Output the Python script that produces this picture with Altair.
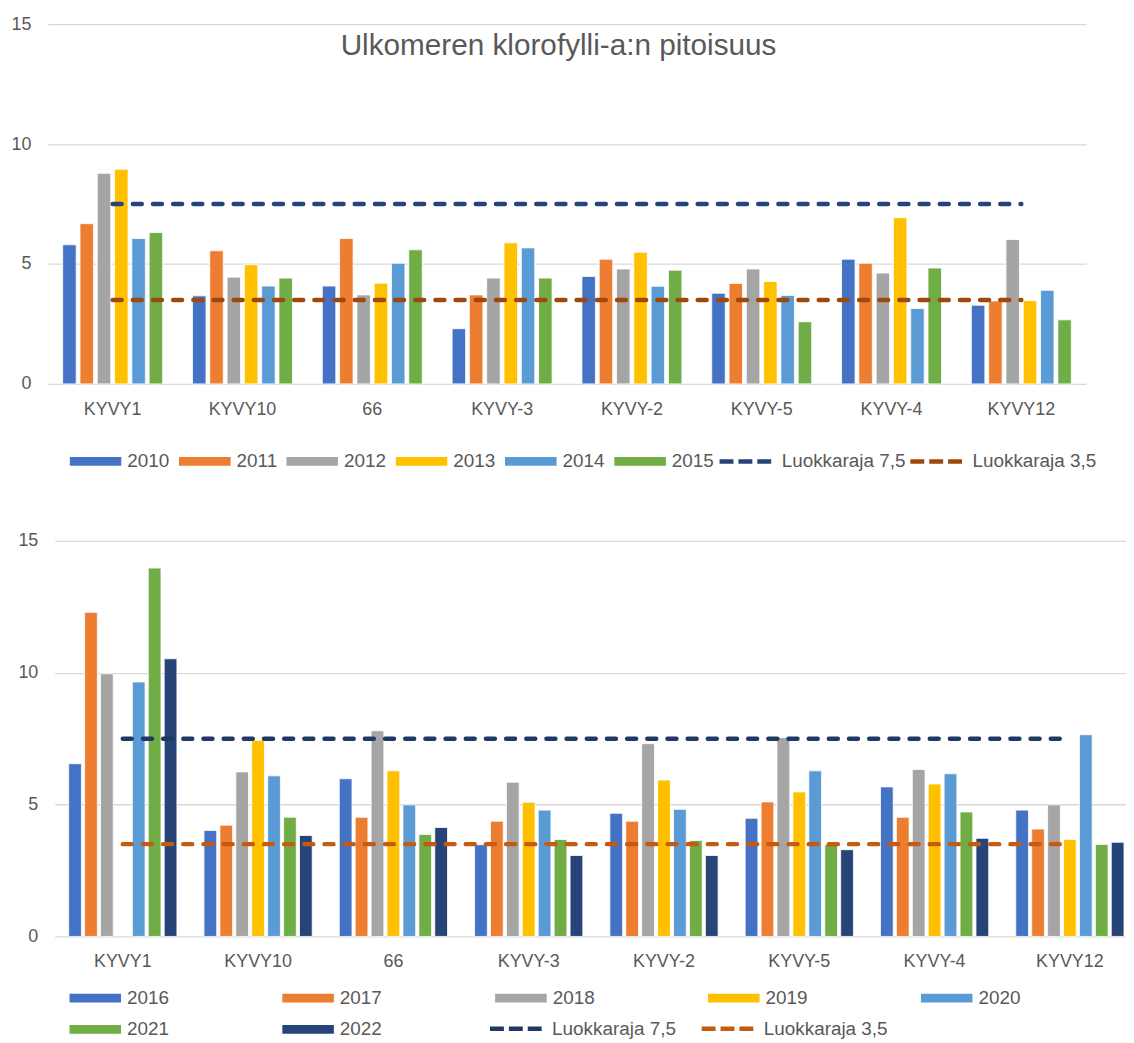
import altair as alt
import pandas as pd

FONT = "Liberation Sans"
TEXT = "#595959"
GRID = "#D9D9D9"

stations = ["KYVY1", "KYVY10", "66", "KYVY-3", "KYVY-2", "KYVY-5", "KYVY-4", "KYVY12"]

# --- upper panel, 2010-2015 ---
years_top = ["2010", "2011", "2012", "2013", "2014", "2015"]
v2010 = [5.80, 3.67, 4.08, 2.30, 4.48, 3.78, 5.20, 3.28]
v2011 = [6.68, 5.55, 6.06, 3.71, 5.20, 4.19, 5.03, 3.46]
v2012 = [8.78, 4.45, 3.71, 4.41, 4.79, 4.79, 4.62, 6.02]
v2013 = [8.95, 4.97, 4.20, 5.88, 5.49, 4.27, 6.93, 3.47]
v2014 = [6.06, 4.08, 5.03, 5.67, 4.07, 3.69, 3.14, 3.90]
v2015 = [6.31, 4.41, 5.59, 4.41, 4.74, 2.59, 4.83, 2.67]

# --- lower panel, 2016-2022 (no 2019 value for KYVY1) ---
years_bottom = ["2016", "2017", "2018", "2019", "2020", "2021", "2022"]
v2016 = [6.55, 4.02, 5.98, 3.48, 4.67, 4.48, 5.67, 4.79]
v2017 = [12.29, 4.22, 4.52, 4.37, 4.37, 5.10, 4.52, 4.07]
v2018 = [9.96, 6.24, 7.80, 5.85, 7.31, 7.54, 6.33, 4.99]
v2019 = [None, 7.44, 6.28, 5.09, 5.93, 5.48, 5.78, 3.68]
v2020 = [9.65, 6.09, 4.99, 4.79, 4.82, 6.28, 6.17, 7.65]
v2021 = [13.97, 4.52, 3.87, 3.68, 3.64, 3.49, 4.72, 3.49]
v2022 = [10.53, 3.83, 4.13, 3.07, 3.07, 3.29, 3.72, 3.57]

limit_labels = ["Luokkaraja 7,5", "Luokkaraja 3,5"]
limit_values = [7.5, 3.5]
y_ticks = [0, 5, 10, 15]

colors_bottom = ["#4472C4", "#ED7D31", "#A5A5A5", "#FFC000", "#5B9BD5", "#70AD47", "#264478"]
colors_top = colors_bottom[:6]
limit_colors_top = ["#264478", "#9E480E"]
limit_colors_bottom = ["#203864", "#C55A11"]

TITLE = "Ulkomeren klorofylli-a:n pitoisuus"


def bar_frame(years, series):
    rows = []
    for yr, vals in zip(years, series):
        for st, v in zip(stations, vals):
            if v is not None:
                rows.append({"station": st, "year": yr, "value": v})
    return pd.DataFrame(rows)


def limit_frame():
    rows = []
    for lab, v in zip(limit_labels, limit_values):
        for i, st in enumerate(stations):
            rows.append({"station": st, "series": lab, "value": v, "idx": i})
    return pd.DataFrame(rows)


def panel(years, series, colors, limit_colors, width, height, x_scale, off_pad,
          ylab_pad, xlab_pad, yr_legend, lim_legend, title=None):
    x_enc = alt.X(
        "station:N", sort=stations, scale=x_scale,
        axis=alt.Axis(title=None, labelAngle=0, domain=False, ticks=False, grid=False,
                      labelPadding=xlab_pad, labelFontSize=18, labelColor=TEXT,
                      labelFont=FONT),
    )
    y_enc = alt.Y(
        "value:Q", scale=alt.Scale(domain=[0, 15], nice=False),
        axis=alt.Axis(title=None, values=y_ticks, domain=False, ticks=False, grid=True,
                      gridColor=GRID, gridWidth=1.4, labelPadding=ylab_pad,
                      labelFontSize=18, labelColor=TEXT, labelFont=FONT),
    )
    common_leg = dict(title=None, orient="none", direction="horizontal", padding=0,
                      labelFontSize=19, labelFont=FONT, labelColor=TEXT, clipHeight=20)
    bars = alt.Chart(bar_frame(years, series)).mark_bar(stroke="white", strokeWidth=0.8).encode(
        x=x_enc,
        y=y_enc,
        xOffset=alt.XOffset("year:N", sort=years,
                            scale=alt.Scale(domain=years, paddingInner=off_pad, paddingOuter=0)),
        fill=alt.Fill("year:N", sort=years, scale=alt.Scale(domain=years, range=colors),
                      legend=alt.Legend(symbolType="M-1,-0.17H1V0.17H-1Z", symbolSize=2704,
                                        symbolStrokeWidth=0, labelOffset=6,
                                        **common_leg, **yr_legend)),
    )
    lines = alt.Chart(limit_frame()).mark_line(strokeWidth=4.5, strokeDash=[9, 11.3],
                                               strokeCap="round").encode(
        x=x_enc,
        y=y_enc,
        order=alt.Order("idx:Q"),
        stroke=alt.Stroke("series:N", sort=limit_labels,
                          scale=alt.Scale(domain=limit_labels, range=limit_colors),
                          legend=alt.Legend(symbolType="stroke", symbolSize=2916,
                                            symbolStrokeWidth=4.5, symbolDash=[14, 5],
                                            labelOffset=6, **common_leg, **lim_legend)),
    )
    layers = [bars, lines]
    if title is not None:
        head = alt.Chart(pd.DataFrame({"t": [title["text"]]})).mark_text(
            font=FONT, fontSize=29.9, color=TEXT, align="center", baseline="middle"
        ).encode(text="t:N", x=alt.value(title["x"]), y=alt.value(title["y"]))
        layers.append(head)
    return alt.layer(*layers).properties(width=width, height=height)


top = panel(
    years_top, [v2010, v2011, v2012, v2013, v2014, v2015], colors_top, limit_colors_top,
    1038, 362,
    alt.Scale(domain=stations, range=[-7, 1038], paddingInner=0.23, paddingOuter=0.115),
    0.22, 24, 17,
    dict(legendX=15, legendY=430, columnPadding=9),
    dict(legendX=666.5, legendY=430, columnPadding=2),
    title={"text": TITLE, "x": 507, "y": 22},
)

bottom = panel(
    years_bottom, [v2016, v2017, v2018, v2019, v2020, v2021, v2022], colors_bottom,
    limit_colors_bottom,
    1078, 398,
    alt.Scale(domain=stations, paddingInner=0.2, paddingOuter=0.059, align=0.875),
    0.2, 17, 16,
    dict(legendX=14.7, legendY=450, columns=5, columnPadding=113.2, rowPadding=11.5),
    dict(legendX=435.5, legendY=481, columnPadding=23),
)

chart = (
    alt.vconcat(top, bottom, spacing=61)
    .resolve_scale(x="independent", y="independent", fill="independent",
                   stroke="independent", xOffset="independent")
    .resolve_legend(fill="independent", stroke="independent")
    .properties(padding={"left": 2, "top": 4, "right": 0, "bottom": 0}, background="white")
    .configure_view(stroke=None)
)

chart.save("out.html", embed_options={"renderer": "svg", "actions": False})
